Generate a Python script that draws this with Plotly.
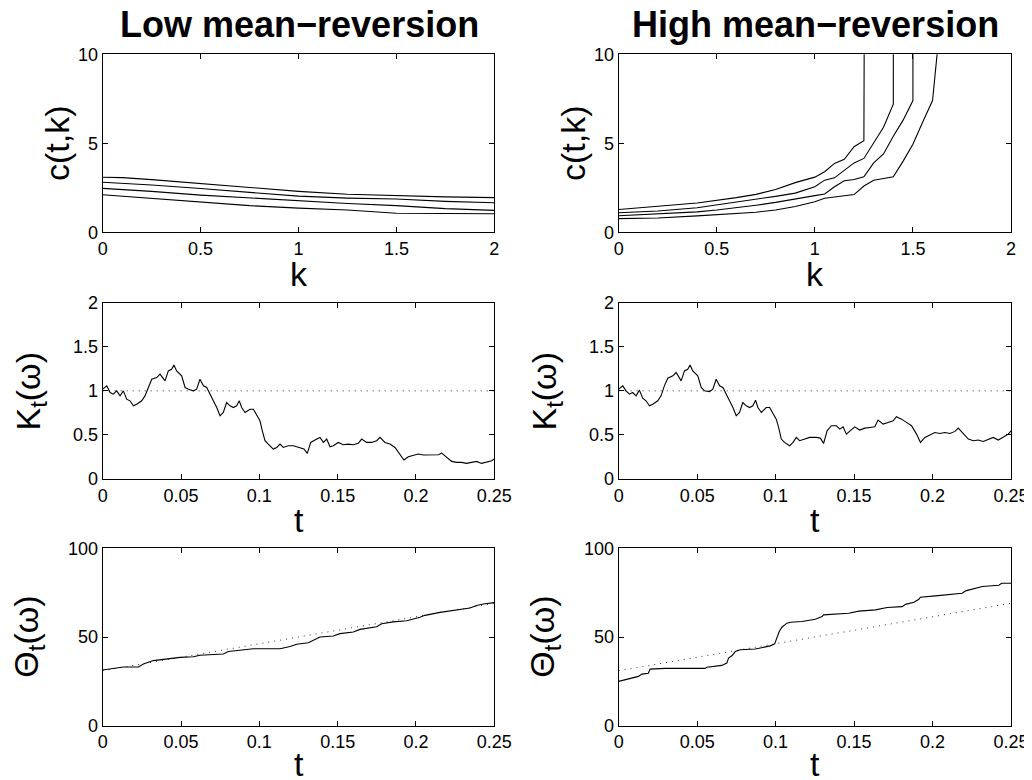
import plotly.graph_objects as go

# ---------------- data ----------------
k_low = [0, 0.1, 0.25, 0.5, 0.75, 1.0, 1.25, 1.5, 1.75, 2.0]
c_low_1 = [3.09, 3.07, 2.96, 2.75, 2.50, 2.30, 2.14, 2.05, 1.99, 1.95]
c_low_2 = [2.81, 2.75, 2.66, 2.46, 2.25, 2.03, 1.92, 1.87, 1.74, 1.66]
c_low_3 = [2.47, 2.41, 2.30, 2.09, 1.92, 1.75, 1.62, 1.50, 1.33, 1.23]
c_low_4 = [2.11, 2.03, 1.90, 1.67, 1.50, 1.36, 1.25, 1.07, 1.04, 1.04]

k_high_1 = [0, 0.2, 0.4, 0.6, 0.7, 0.8, 0.9, 1.0, 1.05, 1.1, 1.15, 1.2, 1.25, 1.26]
c_high_1 = [1.28, 1.45, 1.65, 1.95, 2.13, 2.40, 2.79, 3.10, 3.40, 3.87, 4.10, 4.81, 5.15, 40]
k_high_2 = [0, 0.2, 0.4, 0.5, 0.6, 0.7, 0.8, 0.9, 1.0, 1.05, 1.1, 1.15, 1.2, 1.25, 1.3, 1.35, 1.4, 1.401]
c_high_2 = [1.10, 1.20, 1.38, 1.53, 1.68, 1.85, 2.02, 2.20, 2.56, 2.93, 3.06, 3.48, 3.90, 4.15, 5.00, 5.90, 7.20, 40]
k_high_3 = [0, 0.2, 0.4, 0.5, 0.6, 0.7, 0.8, 0.9, 1.0, 1.05, 1.1, 1.15, 1.2, 1.25, 1.3, 1.35, 1.4, 1.45, 1.5, 1.501]
c_high_3 = [0.93, 1.02, 1.15, 1.25, 1.37, 1.52, 1.68, 1.85, 2.06, 2.15, 2.56, 2.90, 2.97, 3.12, 3.90, 4.40, 5.40, 6.30, 7.40, 40]
k_high_4 = [0, 0.2, 0.4, 0.5, 0.6, 0.7, 0.8, 0.9, 1.0, 1.05, 1.1, 1.15, 1.2, 1.25, 1.3, 1.35, 1.4, 1.45, 1.5, 1.55, 1.6, 1.65]
c_high_4 = [0.77, 0.80, 0.92, 0.98, 1.05, 1.13, 1.25, 1.45, 1.72, 1.91, 1.98, 2.06, 2.12, 2.60, 2.92, 3.02, 3.12, 4.00, 4.95, 6.20, 7.40, 13]

t_path = [0.0000, 0.0026, 0.0047, 0.0068, 0.0089, 0.0111, 0.0132, 0.0153, 0.0174, 0.0196,
          0.0217, 0.0249, 0.0270, 0.0291, 0.0313, 0.0345, 0.0366, 0.0398, 0.0419, 0.0440,
          0.0455, 0.0472, 0.0504, 0.0526, 0.0547, 0.0579, 0.0600, 0.0621, 0.0643, 0.0664,
          0.0696, 0.0728, 0.0749, 0.0770, 0.0791, 0.0813, 0.0834, 0.0855, 0.0872, 0.0887,
          0.0909, 0.0940, 0.0962, 0.0983, 0.1004, 0.1019, 0.1036, 0.1057, 0.1089, 0.1111,
          0.1132, 0.1153, 0.1185, 0.1217, 0.1260, 0.1285, 0.1306, 0.1328, 0.1355, 0.1387,
          0.1409, 0.1430, 0.1451, 0.1472, 0.1504, 0.1536, 0.1568, 0.1600, 0.1632, 0.1653,
          0.1685, 0.1717, 0.1749, 0.1770, 0.1802, 0.1834, 0.1866, 0.1898, 0.1923, 0.1951,
          0.1983, 0.2015, 0.2047, 0.2079, 0.2111, 0.2143, 0.2164, 0.2196, 0.2228, 0.2260,
          0.2291, 0.2323, 0.2355, 0.2387, 0.2419, 0.2451, 0.2483, 0.2500]

K_low = [1.019, 1.057, 0.981, 0.962, 1.000, 0.943, 1.000, 0.906, 0.887, 0.830,
         0.849, 0.887, 0.943, 1.038, 1.132, 1.151, 1.189, 1.113, 1.226, 1.245,
         1.294, 1.226, 1.170, 1.038, 1.019, 1.000, 1.019, 1.132, 1.057, 1.038,
         0.925, 0.811, 0.717, 0.755, 0.868, 0.830, 0.811, 0.830, 0.887, 0.811,
         0.755, 0.792, 0.792, 0.717, 0.660, 0.547, 0.434, 0.396, 0.340, 0.358,
         0.396, 0.358, 0.377, 0.377, 0.358, 0.340, 0.291, 0.415, 0.442, 0.472,
         0.415, 0.453, 0.366, 0.377, 0.415, 0.389, 0.396, 0.389, 0.404, 0.453,
         0.415, 0.415, 0.434, 0.472, 0.415, 0.396, 0.358, 0.283, 0.215, 0.253,
         0.264, 0.283, 0.272, 0.275, 0.272, 0.275, 0.294, 0.245, 0.200, 0.189,
         0.189, 0.177, 0.189, 0.200, 0.177, 0.189, 0.208, 0.226]

K_high = [1.019, 1.057, 1.000, 0.962, 0.981, 0.943, 1.008, 0.917, 0.887, 0.830,
          0.849, 0.887, 0.943, 1.057, 1.143, 1.170, 1.208, 1.113, 1.226, 1.245,
          1.294, 1.226, 1.170, 1.038, 1.000, 0.992, 1.019, 1.132, 1.057, 1.038,
          0.925, 0.811, 0.717, 0.755, 0.868, 0.830, 0.811, 0.830, 0.894, 0.811,
          0.755, 0.811, 0.811, 0.736, 0.679, 0.585, 0.453, 0.415, 0.377, 0.415,
          0.472, 0.434, 0.453, 0.472, 0.472, 0.464, 0.404, 0.547, 0.604, 0.604,
          0.566, 0.592, 0.509, 0.540, 0.592, 0.555, 0.577, 0.585, 0.592, 0.668,
          0.623, 0.642, 0.660, 0.706, 0.679, 0.642, 0.604, 0.509, 0.415, 0.472,
          0.502, 0.528, 0.517, 0.528, 0.517, 0.540, 0.577, 0.509, 0.453, 0.434,
          0.442, 0.426, 0.453, 0.472, 0.442, 0.472, 0.509, 0.547]

t_ref = [0, 0.25]
K_ref = [1, 1]
theta_ref = [31, 69]

t_theta_low = [0.0000, 0.0068, 0.0132, 0.0228, 0.0260, 0.0323, 0.0409, 0.0494, 0.0579, 0.0621,
               0.0770, 0.0802, 0.0962, 0.1132, 0.1196, 0.1238, 0.1313, 0.1345, 0.1387, 0.1472,
               0.1515, 0.1600, 0.1643, 0.1749, 0.1781, 0.1855, 0.1940, 0.2026, 0.2057, 0.2153,
               0.2238, 0.2345, 0.2387, 0.2430, 0.2500]
theta_low = [31.4, 32.2, 33.1, 33.1, 34.8, 36.7, 37.6, 38.5, 38.9, 39.7,
             40.4, 41.8, 43.4, 43.4, 44.6, 45.9, 46.8, 48.3, 50.0, 50.6,
             51.9, 52.8, 54.3, 55.8, 57.5, 58.5, 59.2, 61.1, 62.2, 63.9,
             65.0, 66.3, 67.8, 68.6, 69.4]

t_theta_high = [0.0000, 0.0062, 0.0126, 0.0147, 0.0189, 0.0200, 0.0296, 0.0551, 0.0562, 0.0657,
                0.0689, 0.0700, 0.0721, 0.0743, 0.0774, 0.0870, 0.0913, 0.0966, 0.0994, 0.1009,
                0.1023, 0.1040, 0.1072, 0.1094, 0.1168, 0.1253, 0.1296, 0.1306, 0.1466, 0.1530,
                0.1636, 0.1711, 0.1806, 0.1828, 0.1881, 0.1913, 0.1923, 0.2019, 0.2104, 0.2189,
                0.2211, 0.2274, 0.2317, 0.2423, 0.2440, 0.2500]
theta_high = [25.0, 26.5, 27.8, 29.1, 29.6, 31.9, 32.3, 32.3, 33.0, 34.0,
              35.3, 38.1, 39.4, 41.8, 42.8, 43.2, 43.9, 45.0, 46.1, 49.3,
              53.1, 55.5, 57.8, 58.3, 58.7, 60.0, 61.5, 62.5, 63.4, 64.6,
              65.3, 66.6, 67.1, 68.4, 69.6, 71.3, 72.4, 73.2, 73.9, 74.7,
              76.0, 77.5, 78.5, 79.2, 80.3, 80.3]

col_titles = ["Low mean\u2212reversion", "High mean\u2212reversion"]
k_ticks = [0, 0.5, 1, 1.5, 2]
k_ticklabels = ["0", "0.5", "1", "1.5", "2"]
t_ticks = [0, 0.05, 0.1, 0.15, 0.2, 0.25]
t_ticklabels = ["0", "0.05", "0.1", "0.15", "0.2", "0.25"]
c_ticks = [0, 5, 10]
K_ticks = [0, 0.5, 1, 1.5, 2]
K_ticklabels = ["0", "0.5", "1", "1.5", "2"]
theta_ticks = [0, 50, 100]
xlabels = ["k", "t", "t"]
ylabels = ["c(t,k)", "K<sub>t</sub>(\u03c9)", "\u0398<sub>t</sub>(\u03c9)"]

# ---------------- layout geometry ----------------
# The page body has an 8px margin, so the figure is drawn 8px in from the corner.
OFF = 8
W, H = 1032 - OFF, 780 - OFF
FONT = "Liberation Sans, Arial, Helvetica, sans-serif"
# positions measured on the target page (screen px)
col_px = [(102.7, 494.3), (618.7, 1011.0)]
row_px = [(54.3, 232.3), (302.7, 479.0), (548.3, 725.7)]
ylab_dx = [45, 72, 75]        # distance from plot left edge to y-label centre
xlab_dy = [42, 41, 38]        # distance from plot bottom to x-label centre

def px(xs):
    return (xs - OFF) / W

def py(ys):
    return 1 - (ys - OFF) / H

fig = go.Figure()

def ax_name(i, kind):
    return kind if i == 1 else f"{kind}{i}"

line = dict(color="black", width=1.1)
dot = dict(color="#333333", width=1, dash="1px,5px")

panels = [
    (0, 0, [(k_low, c_low_1, line), (k_low, c_low_2, line), (k_low, c_low_3, line), (k_low, c_low_4, line)]),
    (0, 1, [(k_high_1, c_high_1, line), (k_high_2, c_high_2, line), (k_high_3, c_high_3, line), (k_high_4, c_high_4, line)]),
    (1, 0, [(t_ref, K_ref, dot), (t_path, K_low, line)]),
    (1, 1, [(t_ref, K_ref, dot), (t_path, K_high, line)]),
    (2, 0, [(t_ref, theta_ref, dot), (t_theta_low, theta_low, line)]),
    (2, 1, [(t_ref, theta_ref, dot), (t_theta_high, theta_high, line)]),
]

axis_common = dict(showline=True, linecolor="black", linewidth=1, mirror="ticks",
                   ticks="inside", ticklen=5, tickcolor="black", tickwidth=1,
                   showgrid=False, zeroline=False, automargin=False,
                   tickfont=dict(family=FONT, size=18, color="black"))

annotations = []
for idx, (r, c, traces) in enumerate(panels, start=1):
    xa, ya = ax_name(idx, "x"), ax_name(idx, "y")
    for xs, ys, st in traces:
        fig.add_trace(go.Scatter(x=xs, y=ys, mode="lines", line=st, xaxis=xa, yaxis=ya,
                                 showlegend=False, hoverinfo="skip"))
    x0, x1 = col_px[c]
    y0, y1 = row_px[r]
    xdom = [px(x0), px(x1)]
    ydom = [py(y1), py(y0)]
    if r == 0:
        xr, xt, xtt = [0, 2], k_ticks, k_ticklabels
        yr, yt, ytt = [0, 10], c_ticks, [str(v) for v in c_ticks]
    elif r == 1:
        xr, xt, xtt = [0, 0.25], t_ticks, t_ticklabels
        yr, yt, ytt = [0, 2], K_ticks, K_ticklabels
    else:
        xr, xt, xtt = [0, 0.25], t_ticks, t_ticklabels
        yr, yt, ytt = [0, 100], theta_ticks, [str(v) for v in theta_ticks]
    fig.layout[ax_name(idx, "xaxis")] = dict(domain=xdom, range=xr, tickvals=xt, ticktext=xtt,
                                             anchor=ya, **axis_common)
    fig.layout[ax_name(idx, "yaxis")] = dict(domain=ydom, range=yr, tickvals=yt, ticktext=ytt,
                                             anchor=xa, **axis_common)
    annotations.append(dict(text=xlabels[r], xref="paper", yref="paper",
                            x=px((x0 + x1) / 2), y=py(y1 + xlab_dy[r]),
                            xanchor="center", yanchor="middle", showarrow=False,
                            font=dict(family=FONT, size=34, color="black")))
    annotations.append(dict(text=ylabels[r], xref="paper", yref="paper",
                            x=px(x0 - ylab_dx[r]), y=py((y0 + y1) / 2), textangle=-90,
                            xanchor="center", yanchor="middle", showarrow=False,
                            font=dict(family=FONT, size=34, color="black")))

for c in range(2):
    x0, x1 = col_px[c]
    annotations.append(dict(text="<b>" + col_titles[c] + "</b>", xref="paper", yref="paper",
                            x=px((x0 + x1) / 2 + 1), y=py(25),
                            xanchor="center", yanchor="middle", showarrow=False,
                            font=dict(family=FONT, size=36, color="black")))

fig.update_layout(width=W, height=H, margin=dict(l=0, r=0, t=0, b=0, autoexpand=False),
                  paper_bgcolor="white", plot_bgcolor="white",
                  annotations=annotations, showlegend=False)

fig.write_html("out.html")
